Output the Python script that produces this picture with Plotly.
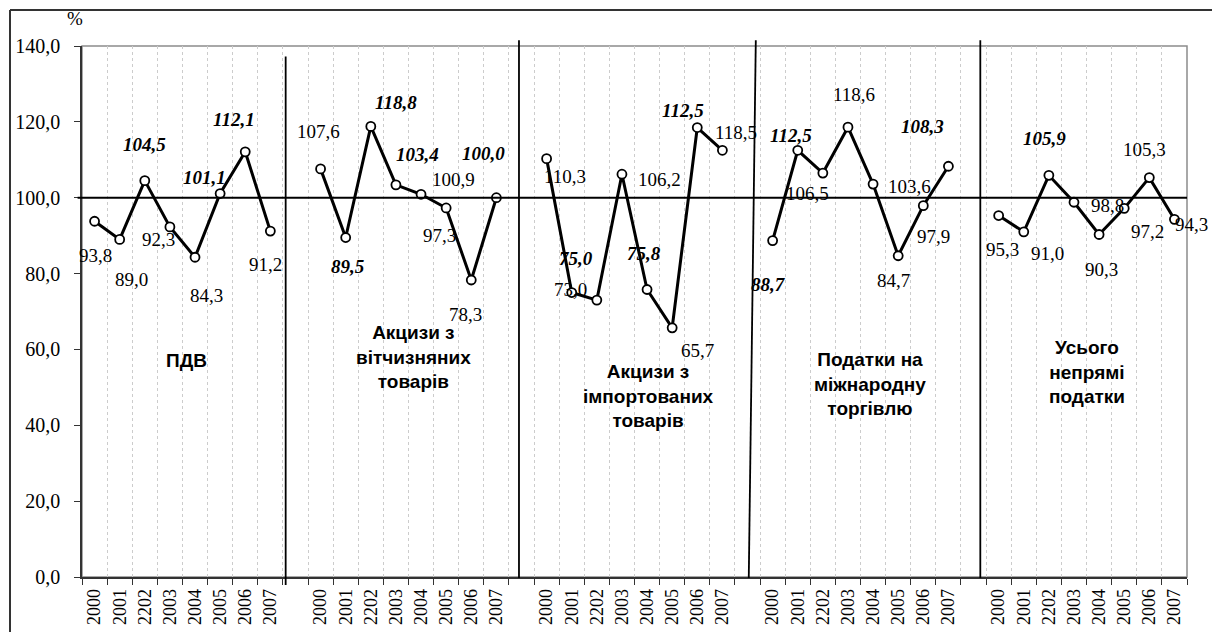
import plotly.graph_objects as go

# ---------------- data ----------------
years = ["2000", "2001", "2202", "2003", "2004", "2005", "2006", "2007"]
group_titles = [
    "ПДВ",
    "Акцизи з<br>вітчизняних<br>товарів",
    "Акцизи з<br>імпортованих<br>товарів",
    "Податки на<br>міжнародну<br>торгівлю",
    "Усього<br>непрямі<br>податки",
]
pdv = [93.8, 89.0, 104.5, 92.3, 84.3, 101.1, 112.1, 91.2]
akc_vit = [107.6, 89.5, 118.8, 103.4, 100.9, 97.3, 78.3, 100.0]
akc_imp = [110.3, 75.0, 73.0, 106.2, 75.8, 65.7, 118.5, 112.5]
pod_mt = [88.7, 112.5, 106.5, 118.6, 103.6, 84.7, 97.9, 108.3]
usogo = [95.3, 91.0, 105.9, 98.8, 90.3, 97.2, 105.3, 94.3]
series = [pdv, akc_vit, akc_imp, pod_mt, usogo]

labels_pdv = ["93,8", "89,0", "104,5", "92,3", "84,3", "101,1", "112,1", "91,2"]
labels_vit = ["107,6", "89,5", "118,8", "103,4", "100,9", "97,3", "78,3", "100,0"]
labels_imp = ["110,3", "75,0", "73,0", "106,2", "75,8", "65,7", "112,5", "118,5"]
labels_mt = ["88,7", "112,5", "106,5", "118,6", "103,6", "84,7", "97,9", "108,3"]
labels_us = ["95,3", "91,0", "105,9", "98,8", "90,3", "97,2", "105,3", "94,3"]
labels = [labels_pdv, labels_vit, labels_imp, labels_mt, labels_us]

# ---------------- styles ----------------
bold_flags = [
    [0, 0, 1, 0, 0, 1, 1, 0],
    [0, 1, 1, 1, 0, 0, 0, 1],
    [0, 1, 0, 0, 1, 0, 1, 0],
    [1, 1, 0, 0, 0, 0, 0, 1],
    [0, 0, 1, 0, 0, 0, 0, 0],
]
label_offsets = [
    [(1, 34), (12, 40), (0, -36), (-11, 13), (11, 38), (-16, -16), (-11, -32), (-5, 33)],
    [(-2, -37), (2, 29), (25, -24), (22, -30), (32, -15), (-7, 28), (-6, 34), (-13, -44)],
    [(18, 18), (4, -34), (-26, -11), (38, 5), (-3, -36), (25, 23), (-14, -17), (14, -18)],
    [(-4, 44), (-7, -15), (-15, 20), (6, -33), (36, 2), (-5, 25), (10, 31), (-26, -40)],
    [(4, 34), (24, 22), (-4, -37), (34, 3), (2, 35), (23, 23), (-5, -28), (17, 5)],
]
title_pos = [(3.68, 57.2), (12.68, 58.0), (22.04, 47.7), (30.88, 50.9), (39.52, 54.0)]
sep_lines = [((7.61, 137.2 / 140), (7.61, -0.015)),
             ((16.9, 1.011), (16.9, -0.002)),
             ((26.33, 1.011), (26.05, -0.002)),
             ((35.27, 1.011), (35.27, -0.002))]

SERIF = "Liberation Serif"
SANS = "Liberation Sans"
n_per = len(years)
stride = n_per + 1
n_total = len(series) * stride - 1

W, H = 1212, 632
ML, MR, MT, MB = 82, 25, 46, 55
PW, PH = W - ML - MR, H - MT - MB


def px_x(p):
    return (p - ML) / PW


def px_y(p):
    return (H - MB - p) / PH


fig = go.Figure()
tickvals, ticktext = [], []
annotations = []
for g, vals in enumerate(series):
    xs = [g * stride + i for i in range(n_per)]
    tickvals += xs
    ticktext += years
    fig.add_trace(go.Scatter(
        x=xs, y=vals, mode="lines+markers",
        line=dict(color="black", width=3),
        marker=dict(symbol="circle", size=9, color="white",
                    line=dict(color="black", width=1.8)),
        showlegend=False, hoverinfo="skip"))
    for i, (x, v) in enumerate(zip(xs, vals)):
        dx, dy = label_offsets[g][i]
        txt = labels[g][i]
        if bold_flags[g][i]:
            txt = "<b><i>" + txt + "</i></b>"
        annotations.append(dict(
            x=x, y=v, xref="x", yref="y", text=txt, showarrow=False,
            xshift=dx, yshift=-dy, xanchor="center", yanchor="middle",
            font=dict(family=SERIF, size=19, color="black")))
    tx, ty = title_pos[g]
    annotations.append(dict(
        x=tx, y=ty, xref="x", yref="y", text="<b>" + group_titles[g] + "</b>",
        showarrow=False, align="center", xanchor="center", yanchor="middle",
        font=dict(family=SANS, size=19, color="black")))

annotations.append(dict(x=px_x(75), y=px_y(19), xref="paper", yref="paper", text="%",
                        showarrow=False, xanchor="center", yanchor="middle",
                        font=dict(family=SERIF, size=19, color="black")))

shapes = []
shapes.append(dict(type="rect", xref="paper", yref="paper", x0=0, y0=0, x1=1, y1=1,
                   line=dict(color="#8c8c8c", width=1.5), layer="below"))
shapes.append(dict(type="line", xref="paper", yref="y", x0=-0.004, x1=1, y0=100, y1=100,
                   line=dict(color="black", width=2)))
for (x0, y0), (x1, y1) in sep_lines:
    shapes.append(dict(type="line", xref="x", yref="paper", x0=x0, y0=y0, x1=x1, y1=y1,
                       line=dict(color="black", width=1.8)))
shapes.append(dict(type="line", xref="paper", yref="paper",
                   x0=px_x(10), x1=px_x(10), y0=px_y(10), y1=px_y(660),
                   line=dict(color="#333333", width=2)))
shapes.append(dict(type="line", xref="paper", yref="paper",
                   x0=px_x(10), x1=px_x(1230), y0=px_y(10), y1=px_y(10),
                   line=dict(color="#333333", width=2)))

fig.update_layout(
    width=W, height=H,
    margin=dict(l=ML, r=MR, t=MT, b=MB, autoexpand=False),
    paper_bgcolor="white", plot_bgcolor="white",
    separators=", ",
    showlegend=False,
    annotations=annotations,
    shapes=shapes,
    xaxis=dict(
        range=[-0.5, n_total - 0.5], automargin=False,
        tickmode="array", tickvals=tickvals, ticktext=ticktext,
        tickangle=-90, ticks="", showgrid=False, zeroline=False,
        showline=True, linecolor="#333333", linewidth=1.5,
        tickfont=dict(family=SERIF, size=18, color="black"),
        ticklabelstandoff=3,
        minor=dict(tick0=-0.5, dtick=1, ticks="outside", ticklen=6,
                   tickcolor="#333333", tickwidth=1.2,
                   showgrid=True, gridcolor="#cccccc", griddash="3px,3px", gridwidth=1),
    ),
    yaxis=dict(
        range=[0, 140], automargin=False,
        tickmode="linear", tick0=0, dtick=20, tickformat=".1f",
        ticks="outside", ticklen=6, tickcolor="#333333",
        showline=True, linecolor="#333333", linewidth=1.5,
        showgrid=False, zeroline=False,
        tickfont=dict(family=SERIF, size=20, color="black"),
        ticklabelstandoff=10,
    ),
)

fig.write_html(
    "out.html",
    config={"displayModeBar": False},
    post_script="document.body.style.margin='0';document.body.style.overflow='hidden';",
)
